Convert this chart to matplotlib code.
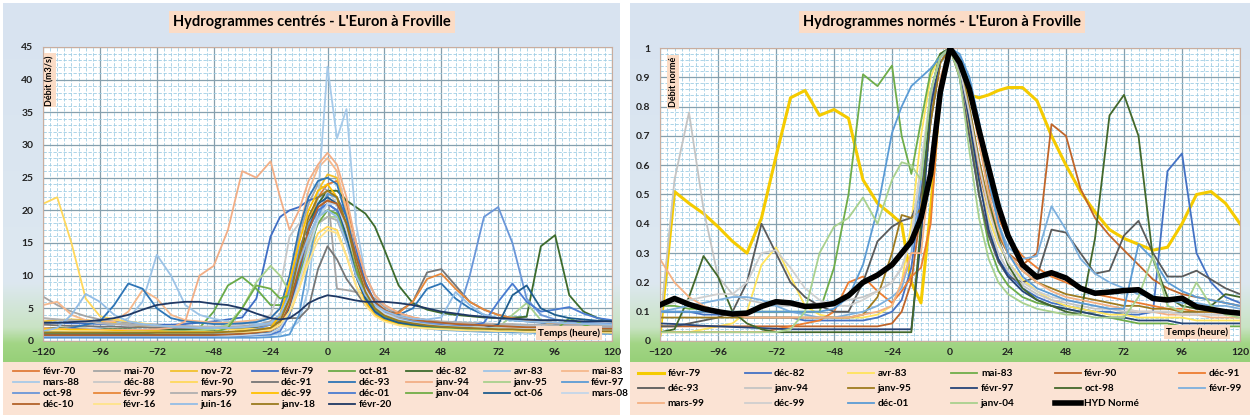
import numpy as np
import matplotlib
matplotlib.use("Agg")
import matplotlib.pyplot as plt
from matplotlib.colors import LinearSegmentedColormap
from matplotlib.ticker import MultipleLocator

# ---------------- DATA ----------------
HOURS = [-120, -114, -108, -102, -96, -90, -84, -78, -72, -66, -60, -54, -48, -42, -36, -30, -24,
         -20, -16, -12, -8, -4, 0, 4, 8, 12, 16, 20,
         24, 30, 36, 42, 48, 54, 60, 66, 72, 78, 84, 90, 96, 102, 108, 114, 120]
X_TICKS = [-120, -96, -72, -48, -24, 0, 24, 48, 72, 96, 120]

LEFT_TITLE = "Hydrogrammes centrés - L'Euron à Froville"
RIGHT_TITLE = "Hydrogrammes normés - L'Euron à Froville"

# --- left chart: centred hydrographs (m3/s)
L_FEVR70 = [1.2,1.1,1.0,1.0,0.9,0.9,0.9,0.8,0.8,0.8,0.8,0.8,0.9,1.2,1.6,2.2,3.0,
            3.8,6.0,12.0,18.0,22.0,24.0,24.5,21.0,15.0,10.0,7.0,
            5.5,4.3,3.6,3.2,2.9,2.6,2.4,2.2,2.0,1.9,1.8,1.7,1.6,1.5,1.5,1.4,1.4]
L_MAI70 = [6.8,5.5,4.5,3.8,3.3,3.0,2.8,2.6,2.5,2.4,2.3,2.2,2.2,2.2,2.3,2.5,3.0,
           4.0,8.0,16.0,21.0,24.0,23.0,8.0,7.8,7.5,7.2,6.5,
           5.2,4.0,3.4,3.0,2.7,2.5,2.3,2.2,2.1,2.0,1.9,1.9,1.8,1.8,1.7,1.7,1.6]
L_NOV72 = [3.0,3.2,3.3,3.2,3.0,2.8,2.5,2.2,2.0,1.8,1.6,1.5,1.4,1.4,1.4,1.5,1.7,
           2.5,5.0,10.0,17.0,23.0,25.5,25.0,20.0,13.0,8.0,5.5,
           4.2,3.2,2.7,2.4,2.2,2.0,1.9,1.8,1.7,1.6,1.5,1.5,1.4,1.4,1.3,1.3,1.3]
L_FEVR79 = [2.8,2.8,2.7,2.7,2.6,2.6,2.5,2.5,2.5,2.5,2.6,2.8,3.0,3.3,3.6,6.5,16.0,
            19.0,20.0,20.5,21.5,22.0,22.7,22.0,19.0,14.0,9.0,6.0,
            4.5,3.5,3.0,2.7,2.5,2.3,2.2,2.1,2.0,1.9,1.9,1.8,1.8,1.7,1.7,1.6,1.6]
L_OCT81 = [1.0,1.0,1.0,1.0,1.0,1.0,1.0,1.0,1.0,1.1,1.3,2.0,4.5,8.5,9.8,8.0,5.5,
           5.5,7.0,11.0,16.0,19.0,20.0,19.5,16.0,11.0,7.0,4.8,
           3.8,3.0,2.6,2.3,2.1,2.0,1.9,1.8,1.7,1.6,1.6,1.5,1.5,1.4,1.4,1.4,1.3]
L_DEC82 = [2.0,2.0,1.9,1.9,1.8,1.8,1.8,1.7,1.7,1.7,1.7,1.7,1.7,1.8,1.9,2.1,2.5,
           3.5,7.0,13.0,18.0,21.0,23.0,23.0,21.5,20.5,19.5,17.5,
           14.0,8.5,5.8,4.8,4.3,4.0,3.8,3.6,3.5,3.6,3.7,14.5,16.2,7.0,4.5,3.5,3.0]
L_AVR83 = [1.5,1.5,1.6,1.8,2.0,2.5,3.5,6.0,13.2,10.0,5.5,4.0,3.4,3.0,2.8,2.6,2.6,
           3.0,5.0,10.0,16.0,19.0,21.0,20.0,16.0,11.0,7.5,5.5,
           4.5,3.8,3.4,3.1,2.9,2.8,2.7,2.6,2.5,2.4,2.3,2.2,2.2,2.1,2.1,2.0,2.0]
L_MAI83 = [5.5,6.0,4.0,3.2,2.8,3.0,4.5,7.8,6.5,4.0,3.2,3.0,2.8,2.8,3.0,3.2,3.5,
           5.0,10.0,17.0,23.0,26.5,28.0,26.0,20.0,13.0,8.0,5.5,
           4.5,3.5,3.0,2.7,2.5,2.3,2.2,2.1,2.0,1.9,1.8,1.7,1.7,1.6,1.6,1.5,1.5]
L_MARS88 = [0.6,0.6,0.6,0.6,0.6,0.6,0.6,0.6,0.6,0.6,0.6,0.6,0.6,0.7,0.7,0.8,0.9,
            1.2,1.8,3.0,8.0,22.0,42.0,31.0,35.5,18.0,10.0,7.0,
            5.5,4.2,3.5,3.0,2.7,2.5,2.3,2.2,2.1,2.0,1.9,1.8,1.8,1.7,1.7,1.6,1.6]
L_DEC88 = [3.5,3.3,3.1,2.9,2.7,2.6,2.5,2.4,2.3,2.3,2.2,2.2,2.2,2.3,2.5,3.0,4.0,
           8.0,16.0,18.0,15.0,19.0,23.0,21.0,16.0,11.0,7.0,5.0,
           4.0,3.3,2.9,2.6,2.4,2.3,2.2,2.1,2.0,2.0,1.9,1.9,1.8,1.8,1.8,1.7,1.7]
L_FEVR90 = [21.0,22.0,15.0,6.5,3.8,3.3,3.0,2.7,2.4,2.2,2.0,1.9,1.8,1.8,1.8,1.9,2.0,
            2.5,4.0,8.0,13.0,16.5,17.5,17.0,13.0,8.5,5.5,4.0,
            3.2,2.6,2.3,2.1,2.0,1.9,1.8,1.7,1.6,1.6,1.5,1.5,1.4,1.4,1.4,1.3,1.3]
L_DEC91 = [2.5,2.4,2.3,2.3,2.2,2.2,2.1,2.1,2.0,2.0,2.0,2.0,2.0,2.0,2.1,2.2,2.5,
           3.0,3.5,3.5,5.0,11.0,14.5,12.5,9.5,7.5,5.5,4.5,
           4.2,4.5,6.0,10.5,11.0,8.5,6.0,4.8,4.0,3.5,3.2,3.0,2.8,2.7,2.6,2.5,2.5]
L_DEC93 = [1.5,1.6,2.0,2.5,3.0,5.5,8.8,8.0,5.0,3.5,3.0,2.8,2.6,2.6,2.7,2.9,3.5,
           5.0,10.0,17.0,22.0,24.5,25.0,24.0,19.0,13.0,8.5,6.0,
           4.5,4.0,5.0,8.0,8.8,6.5,5.0,4.0,3.5,3.2,3.0,2.8,2.6,2.5,2.4,2.3,2.3]
L_JANV94 = [2.0,1.9,1.8,1.8,1.7,1.7,1.7,1.7,1.8,2.0,3.0,10.0,11.5,17.0,26.0,25.0,27.5,
            22.0,17.0,20.0,24.5,27.0,28.8,27.0,22.0,15.0,10.0,7.0,
            5.5,4.3,3.6,3.2,2.9,2.7,2.5,2.4,2.3,2.2,2.1,2.0,2.0,1.9,1.9,1.8,1.8]
L_JANV95 = [1.5,1.5,1.5,1.5,1.5,1.5,1.5,1.5,1.5,1.5,1.5,1.6,1.8,2.5,5.0,9.0,11.5,
            10.0,7.5,10.0,15.0,18.0,19.0,19.0,16.0,11.0,7.0,5.0,
            4.0,3.2,2.8,2.5,2.3,2.2,2.1,2.0,2.0,4.0,5.8,3.2,2.2,2.0,1.9,1.8,1.8]
L_FEVR97 = [0.5,0.5,0.5,0.5,0.5,0.5,0.5,0.5,0.5,0.5,0.5,0.5,0.5,0.5,0.5,0.5,0.6,
            0.7,1.0,4.0,12.0,19.0,22.5,22.0,17.0,11.0,6.5,4.2,
            3.2,2.5,2.1,1.9,1.7,1.6,1.5,1.4,1.4,1.3,1.3,1.2,1.2,1.2,1.1,1.1,1.1]
L_OCT98 = [1.0,1.0,1.0,1.0,1.0,1.0,1.0,1.0,1.0,1.0,1.0,1.0,1.1,1.2,1.4,1.8,2.5,
           4.0,8.0,14.0,18.0,20.0,21.0,20.0,16.0,11.0,7.5,5.5,
           4.5,3.5,3.0,2.8,2.6,3.0,10.0,19.0,20.5,15.0,6.5,4.0,3.3,3.0,2.8,2.7,2.6]
L_FEVR99 = [0.8,0.8,0.8,0.8,0.8,0.8,0.8,0.8,0.8,0.8,0.8,0.8,0.9,0.9,1.0,1.1,1.2,
            2.0,5.0,11.0,17.0,20.5,21.5,21.0,17.0,11.0,6.5,4.5,
            4.0,4.3,6.0,9.5,10.3,8.0,6.0,4.8,4.0,3.5,3.1,2.9,2.7,2.6,2.5,2.4,2.4]
L_MARS99 = [3.5,3.3,3.2,3.0,2.8,2.6,2.5,2.4,2.3,2.2,2.2,2.1,2.1,2.1,2.2,2.3,2.6,
            3.5,6.0,11.0,15.0,18.0,19.0,18.5,15.0,10.0,6.5,5.0,
            4.2,3.6,3.3,3.1,3.0,2.9,2.8,2.7,2.6,2.6,2.5,2.5,2.4,2.4,2.3,2.3,2.3]
L_DEC99 = [1.8,1.8,1.7,1.7,1.6,1.6,1.5,1.5,1.5,1.4,1.4,1.4,1.4,1.4,1.5,1.6,2.0,
           4.0,9.0,15.0,20.0,23.0,24.0,22.0,16.0,10.0,6.0,4.0,
           3.2,2.6,2.3,2.1,2.0,1.9,1.8,1.7,1.6,1.6,1.5,1.5,1.5,1.4,1.4,1.4,1.3]
L_DEC01 = [0.7,0.7,0.7,0.7,0.7,0.7,0.7,0.7,0.7,0.7,0.7,0.7,0.7,0.8,0.8,0.9,1.0,
           1.5,4.0,10.0,17.0,20.0,21.0,20.0,15.5,10.0,6.5,4.5,
           3.6,3.0,2.7,2.5,2.4,2.3,2.3,2.8,6.0,8.8,6.0,4.5,4.8,5.2,4.2,3.5,3.2]
L_JANV04 = [1.2,1.2,1.2,1.2,1.2,1.2,1.2,1.2,1.2,1.2,1.2,1.2,1.3,2.0,5.0,8.5,8.0,
            6.5,7.0,10.0,14.0,18.0,20.0,19.5,16.0,11.0,7.0,4.7,
            3.6,2.8,2.4,2.2,2.0,1.9,1.8,1.8,1.7,1.7,1.6,1.6,1.6,3.5,2.5,1.8,1.7]
L_OCT06 = [1.0,1.0,1.0,1.0,1.0,1.0,1.0,1.0,1.0,1.0,1.0,1.0,1.0,1.0,1.0,1.1,1.3,
           2.0,5.0,11.0,17.0,21.0,22.0,21.0,16.0,10.0,6.5,4.5,
           3.5,2.8,2.5,2.3,2.2,2.1,2.0,2.0,2.5,7.0,8.5,5.0,4.0,3.5,3.3,3.1,3.0]
L_MARS08 = [0.8,0.8,0.8,0.8,0.8,0.8,0.8,0.8,0.8,0.8,0.8,0.8,0.8,0.8,0.9,1.0,1.2,
            2.0,4.5,9.0,14.0,18.5,21.0,21.0,17.0,12.0,8.0,5.5,
            4.2,3.3,2.8,2.5,2.3,2.2,2.1,2.0,1.9,1.9,1.8,1.8,1.7,1.7,1.7,1.6,1.6]
L_DEC10 = [0.9,0.9,0.9,0.9,0.9,0.9,0.9,0.9,0.9,0.9,0.9,0.9,0.9,1.0,1.1,1.3,1.6,
           2.5,5.5,11.0,17.0,20.5,21.5,21.0,18.0,13.0,8.5,6.0,
           4.8,3.8,3.3,3.0,2.8,2.6,2.5,2.4,2.3,2.2,2.1,2.1,2.0,2.0,1.9,1.9,1.9]
L_FEVR16 = [1.6,1.6,1.5,1.5,1.5,1.4,1.4,1.4,1.3,1.3,1.3,1.3,1.3,1.3,1.4,1.5,1.7,
            2.5,4.5,8.0,12.0,15.5,17.0,16.5,13.0,8.5,5.5,3.8,
            3.0,2.4,2.1,1.9,1.8,1.7,1.6,1.6,1.5,1.5,1.4,1.4,1.4,1.3,1.3,1.3,1.3]
L_JUIN16 = [1.5,2.0,4.0,7.2,6.0,4.0,3.0,2.6,2.4,2.2,2.1,2.0,2.0,2.0,2.1,2.3,2.8,
            4.0,7.0,12.0,16.0,19.0,20.0,19.0,15.0,10.0,7.0,5.5,
            4.6,3.8,3.4,3.3,3.6,7.5,5.5,4.0,3.5,3.2,3.0,2.9,2.8,2.7,2.6,2.6,2.5]
L_JANV18 = [1.3,1.3,1.3,1.3,1.3,1.3,1.3,1.3,1.3,1.3,1.3,1.3,1.3,1.4,1.5,1.7,2.0,
            3.0,6.5,13.0,19.0,22.0,23.0,22.0,18.0,12.0,7.5,5.0,
            3.9,3.1,2.7,2.4,2.2,2.1,2.0,1.9,1.8,1.8,1.7,1.7,1.6,1.6,1.6,1.5,1.5]
L_FEVR20 = [2.8,2.8,2.9,3.0,3.2,3.5,4.0,4.8,5.5,5.8,6.0,6.0,5.7,5.5,5.0,4.2,3.5,
            3.3,3.5,4.5,5.8,6.5,7.0,6.8,6.5,6.2,6.0,6.0,
            6.0,5.8,5.5,5.0,4.5,4.2,3.9,3.7,3.5,3.4,3.3,3.2,3.2,3.1,3.0,3.0,3.0]

LEFT_LABELS = ["févr-70", "mai-70", "nov-72", "févr-79", "oct-81", "déc-82", "avr-83", "mai-83",
               "mars-88", "déc-88", "févr-90", "déc-91", "déc-93", "janv-94", "janv-95", "févr-97",
               "oct-98", "févr-99", "mars-99", "déc-99", "déc-01", "janv-04", "oct-06", "mars-08",
               "déc-10", "févr-16", "juin-16", "janv-18", "févr-20"]
LEFT_VALUES = [L_FEVR70, L_MAI70, L_NOV72, L_FEVR79, L_OCT81, L_DEC82, L_AVR83, L_MAI83,
               L_MARS88, L_DEC88, L_FEVR90, L_DEC91, L_DEC93, L_JANV94, L_JANV95, L_FEVR97,
               L_OCT98, L_FEVR99, L_MARS99, L_DEC99, L_DEC01, L_JANV04, L_OCT06, L_MARS08,
               L_DEC10, L_FEVR16, L_JUIN16, L_JANV18, L_FEVR20]

# --- right chart: normalised hydrographs
R_FEVR79 = [0.02,0.51,0.47,0.435,0.39,0.34,0.30,0.42,0.63,0.83,0.855,0.77,0.79,0.76,0.55,0.47,0.43,
            0.40,0.20,0.13,0.45,0.85,1.0,0.93,0.84,0.83,0.84,0.855,
            0.865,0.865,0.82,0.70,0.60,0.51,0.44,0.38,0.35,0.33,0.31,0.32,0.40,0.50,0.51,0.47,0.40]
R_DEC82 = [0.10,0.10,0.10,0.09,0.09,0.09,0.08,0.08,0.08,0.08,0.07,0.07,0.07,0.07,0.07,0.08,0.10,
           0.14,0.25,0.50,0.80,0.97,1.0,0.90,0.70,0.50,0.36,0.28,
           0.23,0.18,0.15,0.13,0.12,0.11,0.10,0.10,0.09,0.09,0.10,0.58,0.64,0.30,0.20,0.15,0.13]
R_AVR83 = [0.03,0.03,0.03,0.04,0.05,0.06,0.10,0.26,0.32,0.22,0.12,0.09,0.08,0.08,0.08,0.09,0.12,
           0.20,0.40,0.70,0.90,0.98,1.0,0.90,0.72,0.55,0.42,0.33,
           0.27,0.21,0.17,0.14,0.12,0.11,0.10,0.09,0.09,0.08,0.08,0.08,0.08,0.07,0.07,0.07,0.07]
R_MAI83 = [0.12,0.12,0.11,0.11,0.10,0.10,0.10,0.10,0.10,0.10,0.10,0.10,0.25,0.50,0.91,0.87,0.94,
           0.70,0.57,0.75,0.92,0.98,1.0,0.95,0.75,0.50,0.33,0.24,
           0.19,0.15,0.13,0.12,0.11,0.10,0.09,0.08,0.07,0.06,0.06,0.06,0.05,0.05,0.05,0.05,0.05]
R_FEVR90 = [0.05,0.05,0.05,0.05,0.05,0.05,0.05,0.05,0.05,0.05,0.05,0.05,0.05,0.05,0.05,0.05,0.06,
            0.10,0.20,0.45,0.75,0.95,1.0,0.93,0.75,0.58,0.45,0.36,
            0.30,0.26,0.30,0.74,0.70,0.52,0.42,0.36,0.31,0.26,0.21,0.18,0.16,0.15,0.14,0.13,0.12]
R_DEC91 = [0.03,0.03,0.03,0.03,0.03,0.03,0.03,0.03,0.04,0.05,0.06,0.07,0.10,0.20,0.22,0.17,0.13,
           0.17,0.22,0.25,0.40,0.85,1.0,0.97,0.85,0.68,0.52,0.42,
           0.35,0.29,0.25,0.22,0.20,0.18,0.16,0.15,0.14,0.13,0.12,0.11,0.11,0.10,0.10,0.09,0.09]
R_DEC93 = [0.05,0.05,0.06,0.07,0.08,0.10,0.20,0.40,0.30,0.20,0.15,0.12,0.10,0.10,0.20,0.34,0.39,
           0.41,0.42,0.50,0.75,0.95,1.0,0.90,0.70,0.50,0.36,0.27,
           0.22,0.20,0.22,0.38,0.37,0.30,0.23,0.24,0.36,0.41,0.30,0.22,0.22,0.24,0.21,0.18,0.16]
R_JANV94 = [0.05,0.55,0.78,0.45,0.22,0.16,0.14,0.13,0.12,0.12,0.12,0.13,0.13,0.14,0.15,0.17,0.20,
            0.25,0.35,0.60,0.82,0.95,1.0,0.92,0.75,0.55,0.40,0.30,
            0.24,0.19,0.16,0.14,0.13,0.12,0.11,0.11,0.10,0.10,0.10,0.10,0.09,0.09,0.09,0.09,0.09]
R_JANV95 = [0.08,0.08,0.08,0.08,0.08,0.08,0.08,0.08,0.08,0.08,0.08,0.08,0.08,0.08,0.09,0.15,0.30,
            0.43,0.42,0.45,0.75,0.95,1.0,0.95,0.80,0.62,0.47,0.37,
            0.30,0.24,0.20,0.18,0.16,0.15,0.14,0.13,0.12,0.12,0.11,0.11,0.10,0.10,0.10,0.10,0.10]
R_FEVR97 = [0.06,0.058,0.055,0.052,0.05,0.048,0.046,0.044,0.042,0.04,0.04,0.04,0.04,0.04,0.04,0.04,0.04,
            0.04,0.04,0.35,0.80,0.97,1.0,0.93,0.75,0.55,0.38,0.28,
            0.22,0.17,0.14,0.12,0.11,0.10,0.09,0.08,0.08,0.07,0.07,0.07,0.06,0.06,0.06,0.06,0.06]
R_OCT98 = [0.03,0.04,0.15,0.29,0.22,0.10,0.06,0.04,0.03,0.03,0.03,0.03,0.03,0.03,0.03,0.03,0.03,
           0.03,0.03,0.40,0.85,0.98,1.0,0.97,0.88,0.70,0.50,0.35,
           0.26,0.18,0.14,0.12,0.10,0.09,0.35,0.77,0.84,0.70,0.28,0.15,0.12,0.11,0.12,0.16,0.15]
R_FEVR99 = [0.10,0.11,0.12,0.13,0.14,0.15,0.15,0.14,0.12,0.10,0.09,0.08,0.08,0.09,0.10,0.12,0.15,
            0.18,0.30,0.55,0.85,0.97,1.0,0.97,0.90,0.75,0.55,0.40,
            0.32,0.28,0.29,0.46,0.38,0.28,0.23,0.20,0.18,0.16,0.15,0.14,0.13,0.13,0.12,0.12,0.11]
R_MARS99 = [0.28,0.20,0.15,0.12,0.10,0.09,0.08,0.08,0.08,0.08,0.08,0.08,0.08,0.08,0.09,0.10,0.12,
            0.20,0.30,0.30,0.60,0.90,1.0,0.96,0.85,0.68,0.50,0.38,
            0.30,0.24,0.20,0.17,0.15,0.14,0.13,0.12,0.11,0.10,0.10,0.09,0.09,0.09,0.08,0.08,0.08]
R_DEC99 = [0.12,0.13,0.14,0.15,0.16,0.16,0.20,0.30,0.31,0.25,0.18,0.14,0.12,0.12,0.14,0.17,0.20,
           0.25,0.35,0.60,0.85,0.97,1.0,0.93,0.78,0.60,0.45,0.34,
           0.27,0.20,0.17,0.15,0.14,0.13,0.12,0.11,0.11,0.10,0.10,0.10,0.09,0.09,0.09,0.09,0.09]
R_DEC01 = [0.10,0.10,0.10,0.10,0.10,0.10,0.10,0.10,0.10,0.10,0.10,0.10,0.11,0.15,0.26,0.45,0.71,
           0.80,0.87,0.90,0.93,0.97,1.0,0.98,0.90,0.75,0.55,0.40,
           0.30,0.22,0.18,0.16,0.14,0.13,0.12,0.11,0.11,0.33,0.28,0.20,0.17,0.15,0.14,0.13,0.12]
R_JANV04 = [0.03,0.03,0.03,0.03,0.03,0.03,0.03,0.03,0.03,0.04,0.10,0.30,0.39,0.42,0.49,0.40,0.55,
            0.61,0.60,0.55,0.85,0.97,1.0,0.90,0.65,0.42,0.28,0.20,
            0.16,0.13,0.11,0.10,0.09,0.09,0.08,0.08,0.08,0.15,0.29,0.12,0.10,0.20,0.12,0.09,0.08]
R_HYD = [0.123,0.145,0.125,0.11,0.10,0.092,0.095,0.118,0.134,0.13,0.118,0.12,0.128,0.155,0.20,0.225,0.26,
         0.30,0.34,0.42,0.57,0.85,1.0,0.95,0.86,0.72,0.59,0.46,
         0.36,0.26,0.218,0.233,0.215,0.18,0.163,0.167,0.172,0.175,0.145,0.14,0.146,0.117,0.108,0.10,0.095]

RIGHT_LABELS = ["févr-79", "déc-82", "avr-83", "mai-83", "févr-90", "déc-91",
                "déc-93", "janv-94", "janv-95", "févr-97", "oct-98", "févr-99",
                "mars-99", "déc-99", "déc-01", "janv-04", "HYD Normé"]
RIGHT_VALUES = [R_FEVR79, R_DEC82, R_AVR83, R_MAI83, R_FEVR90, R_DEC91,
                R_DEC93, R_JANV94, R_JANV95, R_FEVR97, R_OCT98, R_FEVR99,
                R_MARS99, R_DEC99, R_DEC01, R_JANV04, R_HYD]

# ---------------- STYLE ----------------
LEFT_COLORS = ["#E07B39", "#A5A5A5", "#F2C12E", "#3F6EC4", "#6AAA48", "#3D6B2C", "#9DC3E6", "#F5B88C",
               "#A7CAE9", "#C8C8C8", "#FFD85C", "#767676", "#2E75B6", "#F2AE86", "#A9D18E", "#5B9BD5",
               "#6A96D8", "#E8883A", "#B0B0B0", "#FFC000", "#4A7BD0", "#70AD47", "#1E5C8E", "#C3D6EA",
               "#B2622A", "#FFE38A", "#93BDE6", "#9A7A1E", "#1F3864"]
RIGHT_COLORS = ["#F5CB00", "#4472C4", "#FFE45C", "#6FAD4A", "#C0652A", "#ED7D31",
                "#5A5A5A", "#C4C4C4", "#9E7B1F", "#264478", "#43682B", "#7CAFDD",
                "#F4B183", "#CFCFCF", "#5B9BD5", "#A9D18E", "#000000"]
RIGHT_WIDTHS = [2.2] + [1.3] * 15 + [4.0]

plt.rcParams['font.family'] = ['Lato', 'DejaVu Sans']
W, H = 1252, 418
fig = plt.figure(figsize=(W / 100, H / 100), dpi=100)
fig.patch.set_facecolor('white')

def fx(px):
    return px / W

def fy(py):
    return 1 - py / H

BG = LinearSegmentedColormap.from_list('bg', [(0.0, '#d8e3f1'), (0.78, '#dde8f0'),
                                              (0.905, '#c9e3c4'), (0.95, '#a2d585'),
                                              (1.0, '#97d079')])
PEACH = '#fbe3d4'
BOX = '#fbdcc6'

def panel(x0, x1):
    bg = fig.add_axes([fx(x0), fy(362), fx(x1 - x0), (362 - 3) / H])
    bg.imshow(np.linspace(0, 1, 256)[:, None], aspect='auto', cmap=BG,
              extent=[0, 1, 0, 1], origin='upper')
    bg.axis('off')
    lg = fig.add_axes([fx(x0), fy(415), fx(x1 - x0), (415 - 362) / H])
    lg.set_facecolor(PEACH)
    lg.set_xticks([]); lg.set_yticks([])
    for s in lg.spines.values():
        s.set_visible(False)

panel(3, 620)
panel(630, 1250)

def style_axes(ax, ymax, ymajor, yminor, yfmt):
    ax.set_facecolor('white')
    ax.set_xlim(-120, 120)
    ax.set_ylim(0, ymax)
    ax.set_xticks(X_TICKS)
    ax.xaxis.set_minor_locator(MultipleLocator(3))
    ax.yaxis.set_major_locator(MultipleLocator(ymajor))
    ax.yaxis.set_minor_locator(MultipleLocator(yminor))
    ax.set_axisbelow(True)
    ax.grid(True, which='minor', color='#9fcde4', lw=0.6, ls=(0, (4, 2)))
    ax.grid(True, which='major', color='#86a0ae', lw=0.9)
    ax.tick_params(which='both', length=0)
    ax.tick_params(axis='x', pad=5, labelsize=7.5, labelcolor='#222222')
    ax.tick_params(axis='y', pad=7, labelsize=7.5, labelcolor='#222222')
    for lab in ax.get_xticklabels() + ax.get_yticklabels():
        lab.set_fontweight('bold')
    ax.yaxis.set_major_formatter(yfmt)
    for s in ax.spines.values():
        s.set_color('#c9ad9e')
        s.set_linewidth(0.8)

def fmt_right(v, pos):
    return ('%g' % round(v, 2))

axL = fig.add_axes([fx(43), fy(341), fx(612 - 43), (341 - 47) / H])
style_axes(axL, 45, 5, 1, plt.FuncFormatter(lambda v, p: '%d' % v))
axR = fig.add_axes([fx(660), fy(341), fx(1240 - 660), (341 - 48) / H])
style_axes(axR, 1, 0.1, 0.02, plt.FuncFormatter(fmt_right))

left_handles = []
for lab, vals, col in zip(LEFT_LABELS, LEFT_VALUES, LEFT_COLORS):
    ln, = axL.plot(HOURS, vals, color=col, lw=1.3, label=lab, solid_joinstyle='round')
    left_handles.append(ln)

right_handles = []
for lab, vals, col, lw in zip(RIGHT_LABELS, RIGHT_VALUES, RIGHT_COLORS, RIGHT_WIDTHS):
    ln, = axR.plot(HOURS, vals, color=col, lw=lw, label=lab, solid_joinstyle='round',
                   zorder=3 if lw > 3 else 2)
    right_handles.append(ln)

# titles
fig.text(fx(312), fy(22), LEFT_TITLE, ha='center', va='center', fontsize=10.5, fontweight='bold',
         bbox=dict(boxstyle='square,pad=0.3', fc=BOX, ec='none'))
fig.text(fx(942), fy(22), RIGHT_TITLE, ha='center', va='center', fontsize=10.5, fontweight='bold',
         bbox=dict(boxstyle='square,pad=0.3', fc=BOX, ec='none'))

# axis labels inside plot areas
axL.text((50 - 43) / 569, (341 - 55) / 294, 'Débit (m3/s)', rotation=90, ha='center', va='top',
         transform=axL.transAxes, fontsize=6.5, fontweight='bold', zorder=5,
         bbox=dict(boxstyle='square,pad=0.2', fc=BOX, ec='none'))
axR.text((673 - 660) / 580, (341 - 57) / 293, 'Débit normé', rotation=90, ha='center', va='top',
         transform=axR.transAxes, fontsize=6.5, fontweight='bold', zorder=5,
         bbox=dict(boxstyle='square,pad=0.2', fc=BOX, ec='none'))
axL.text((569 - 43) / 569, (341 - 333) / 294, 'Temps (heure)', ha='center', va='center',
         transform=axL.transAxes, fontsize=7, fontweight='bold', zorder=5,
         bbox=dict(boxstyle='square,pad=0.2', fc=BOX, ec='none'))
axR.text((1197 - 660) / 580, (341 - 332) / 293, 'Temps (heure)', ha='center', va='center',
         transform=axR.transAxes, fontsize=7, fontweight='bold', zorder=5,
         bbox=dict(boxstyle='square,pad=0.2', fc=BOX, ec='none'))

def rowmajor(items, ncol):
    n = len(items)
    nrows = -(-n // ncol)
    out = []
    for c in range(ncol):
        for r in range(nrows):
            i = r * ncol + c
            if i < n:
                out.append(items[i])
    return out

lh = rowmajor(left_handles, 8)
fig.legend(lh, [h.get_label() for h in lh], ncol=8, loc='upper left',
           bbox_to_anchor=(fx(13), fy(416), fx(628 - 13), (416 - 367) / H),
           mode='expand', frameon=False, handlelength=2.6, handletextpad=0.35,
           labelspacing=0.2, borderaxespad=0, borderpad=0,
           prop=dict(size=7.2, weight='bold'))
rh = rowmajor(right_handles, 6)
fig.legend(rh, [h.get_label() for h in rh], ncol=6, loc='upper left',
           bbox_to_anchor=(fx(638), fy(416), fx(1242 - 638), (416 - 369) / H),
           mode='expand', frameon=False, handlelength=2.6, handletextpad=0.35,
           labelspacing=0.62, borderaxespad=0, borderpad=0,
           prop=dict(size=7.2, weight='bold'))

fig.savefig('out.png', dpi=100, facecolor='white')
